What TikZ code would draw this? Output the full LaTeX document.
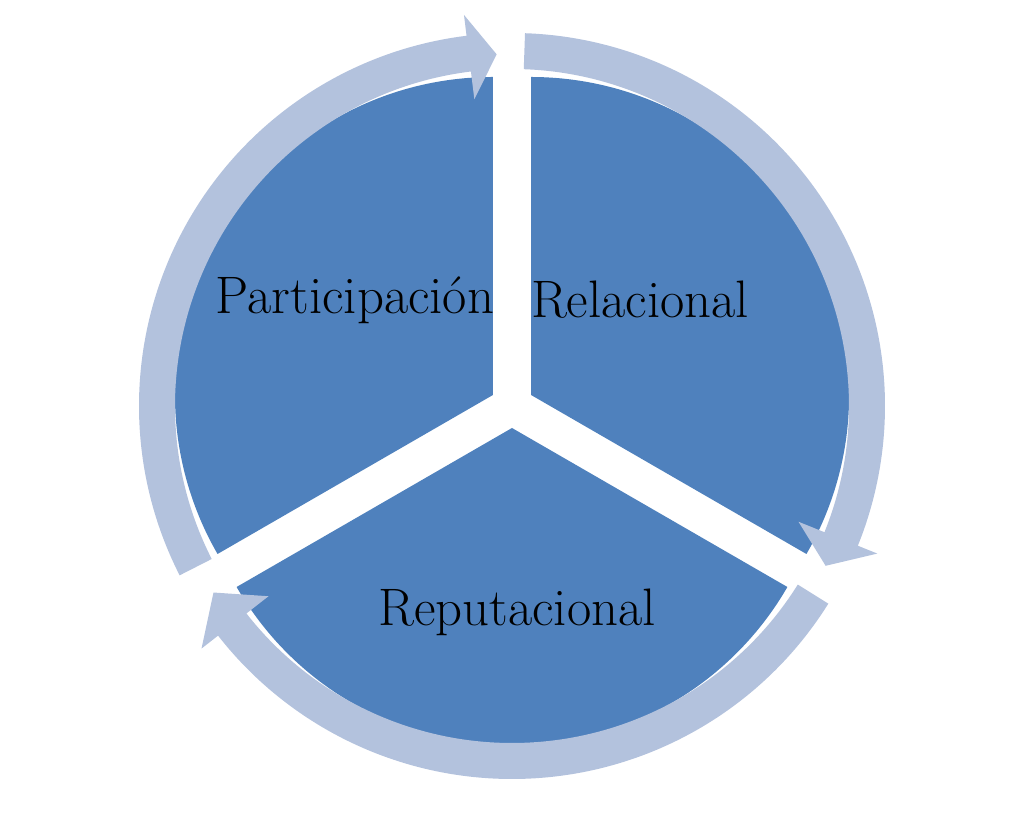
\documentclass[tikz,border=0pt]{standalone}
\usepackage{tikz}
\definecolor{sectorblue}{HTML}{4F81BD}
\definecolor{ringblue}{HTML}{B3C2DD}
\tikzset{
  sector/.style={fill=sectorblue},
  ring/.style={fill=ringblue},
  label/.style={font=\fontsize{15}{18}\selectfont, text=black}
}
\begin{document}
\begin{tikzpicture}[x=0.01cm,y=0.01cm]
\useasboundingbox (-512,-413) rectangle (512,406);

% the three sectors, pushed out a little
\foreach \a/\d in {90/150, -30/30, 210/270}
  \fill[sector] (\d:22) -- ++(\a:318) arc[start angle=\a, delta angle=120, radius=318] -- cycle;

% arrows of the outer ring
\foreach \s/\b/\t in {88/-22/-27, -32/-142/-148, 207/97/92.5}
  \fill[ring] (\s:373) arc[start angle=\s, end angle=\b, radius=373]
    -- (\b:394) -- (\t:352) -- (\b:309) -- (\b:337)
    arc[start angle=\b, end angle=\s, radius=337] -- cycle;

\node[label] (part) at (-157,106) {Participación};
\node[label] (rel) at (128,106) {Relacional};
\node[label] (rep) at (5,-206) {Reputacional};
\end{tikzpicture}
\end{document}
